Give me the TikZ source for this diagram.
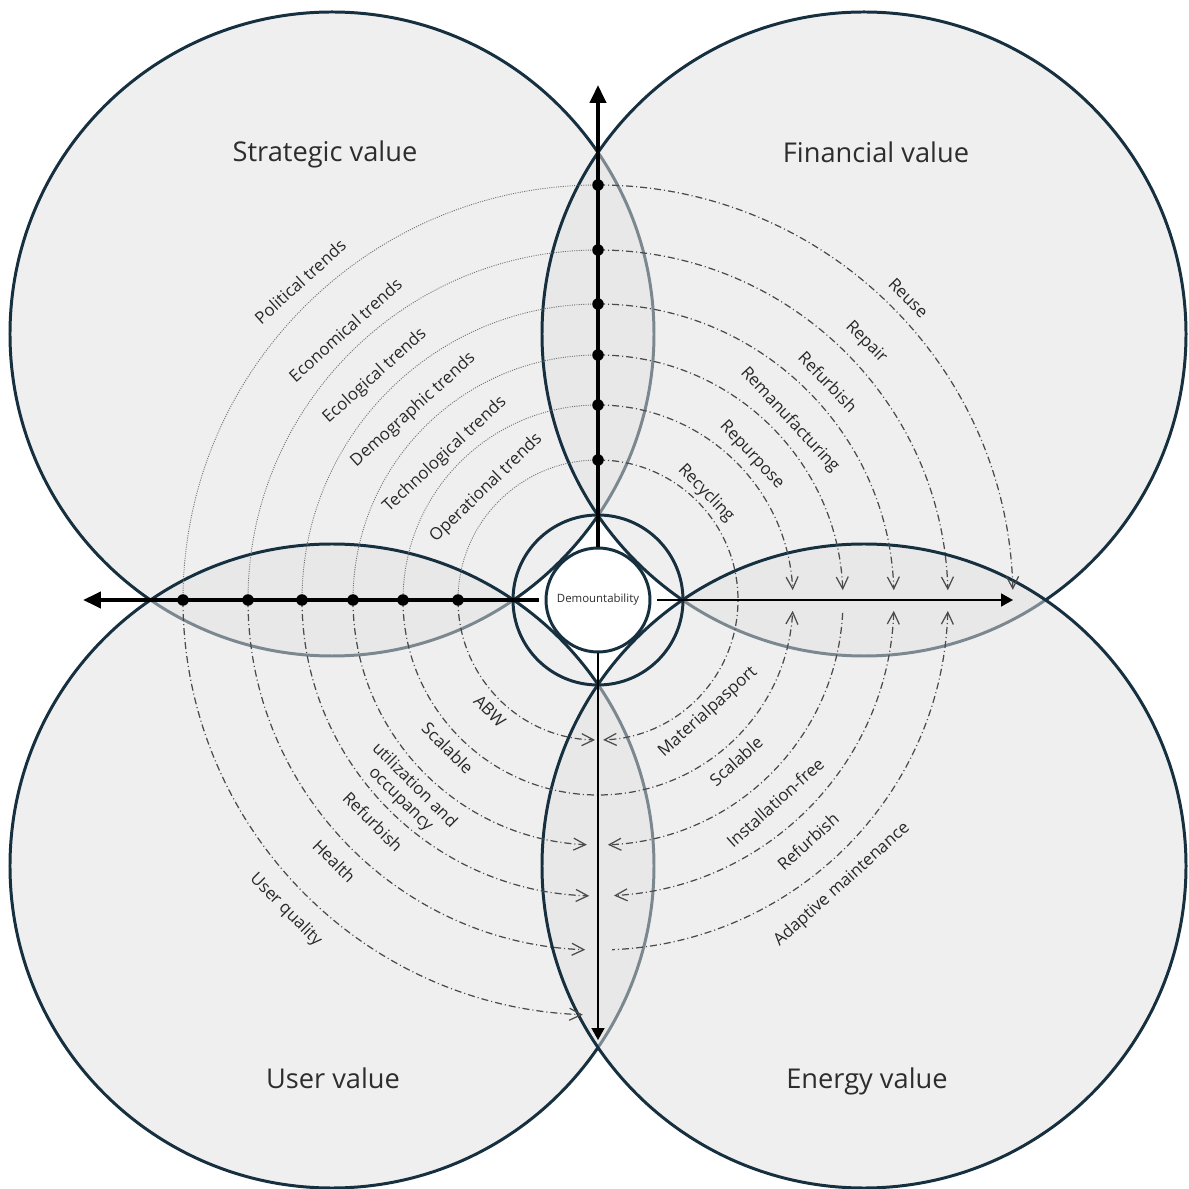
\documentclass[tikz,border=0pt]{standalone}
\usepackage{fontspec}
\setmainfont{Open Sans}
\usetikzlibrary{arrows.meta}
\definecolor{NV}{RGB}{22,48,64}
\definecolor{CF}{RGB}{224,224,224}
\definecolor{TX}{RGB}{45,45,45}
\definecolor{LB}{RGB}{40,40,40}
\definecolor{FL}{RGB}{75,75,75}
\tikzset{
  % big value circles
  valuecirc/.style={
    draw=NV, line width=1.7pt,
    fill=CF, fill opacity=0.5
  },
  valuetitle/.style={
    font=\fontsize{15.5}{18}\selectfont, text=TX
  },
  % centre
  hubnode/.style={
    circle, draw=NV, line width=1.7pt, fill=white,
    minimum size=2.08cm, inner sep=0pt,
    font=\fontsize{6.5}{8}\selectfont, text=TX
  },
  ringline/.style={draw=NV, line width=1.7pt},
  % axes
  thickaxis/.style={line width=2.3pt, -{Triangle[length=3.6mm,width=3.2mm]}},
  thinaxis/.style={line width=1pt, -{Triangle[length=2.4mm,width=2.6mm]}},
  axisdot/.style={circle, fill=black, inner sep=0pt, minimum size=2.3mm},
  % arcs
  trendarc/.style={draw=black!55, line width=0.5pt, dash pattern=on 0.6pt off 0.7pt},
  flowarc/.style={
    draw=FL, line width=0.7pt,
    dash pattern=on 4pt off 1.7pt on 0.6pt off 1.7pt
  },
  flowbarb/.tip={Straight Barb[length=2.4mm,width=2.4mm]},
  arclabel/.style={
    font=\fontsize{9.6}{11}\selectfont, text=LB,
    inner sep=1pt, align=center
  },
}
\begin{document}
\begin{tikzpicture}[x=0.02cm, y=0.02cm]
\useasboundingbox (-598,-589) rectangle (590,600);

% ── Value circles ───────────────────────────────────────────────────────────
\draw[valuecirc] (-266,266) circle[radius=322];
\draw[valuecirc] (266,266) circle[radius=322];
\draw[valuecirc] (-266,-266) circle[radius=322];
\draw[valuecirc] (266,-266) circle[radius=322];

\node[valuetitle] (stratT) at (-273,446) {Strategic value};
\node[valuetitle] (finT)   at (278,448)  {Financial value};
\node[valuetitle] (userT)  at (-265,-478) {User value};
\node[valuetitle] (enT)    at (269,-481) {Energy value};

% ── Centre ──────────────────────────────────────────────────────────────────
\draw[ringline] (0,0) circle[radius=85];
\node[hubnode] (hub) at (0,0) {Demountability};

% ── Axis points ─────────────────────────────────────────────────────────────
\coordinate (v1) at (0,415);
\coordinate (v2) at (0,350);
\coordinate (v3) at (0,296);
\coordinate (v4) at (0,245);
\coordinate (v5) at (0,195);
\coordinate (v6) at (0,140);
\coordinate (h1) at (-415,0);
\coordinate (h2) at (-350,0);
\coordinate (h3) at (-296,0);
\coordinate (h4) at (-245,0);
\coordinate (h5) at (-195,0);
\coordinate (h6) at (-140,0);
\coordinate (topTip)   at (0,515);
\coordinate (leftTip)  at (-515,0);
\coordinate (rightTip) at (415,0);
\coordinate (downTip)  at (0,-440);

% ── Strategic: trends ───────────────────────────────────────────────────────
\draw[trendarc] (v1) arc[start angle=90, end angle=180, radius=415];
\draw[trendarc] (v2) arc[start angle=90, end angle=180, radius=350];
\draw[trendarc] (v3) arc[start angle=90, end angle=180, radius=296];
\draw[trendarc] (v4) arc[start angle=90, end angle=180, radius=245];
\draw[trendarc] (v5) arc[start angle=90, end angle=180, radius=195];
\draw[trendarc] (v6) arc[start angle=90, end angle=180, radius=140];

% ── Financial: R-strategies ─────────────────────────────────────────────────
\draw[flowarc, -flowbarb] (v1) arc[start angle=90, end angle=1.4, radius=415];
\draw[flowarc, -flowbarb] (v2) arc[start angle=90, end angle=1.6, radius=350];
\draw[flowarc, -flowbarb] (v3) arc[start angle=90, end angle=1.9, radius=296];
\draw[flowarc, -flowbarb] (v4) arc[start angle=90, end angle=2.3, radius=245];
\draw[flowarc, -flowbarb] (v5) arc[start angle=90, end angle=2.9, radius=195];
% Recycling runs on into Materialpasport
\draw[flowarc, -flowbarb] (v6) arc[start angle=90, end angle=-87.9, radius=140];

% ── User ────────────────────────────────────────────────────────────────────
\draw[flowarc, -flowbarb] (h1) arc[start angle=180, end angle=267.9, radius=415];
\draw[flowarc, -flowbarb] (h2) arc[start angle=180, end angle=267.9, radius=350];
\draw[flowarc, -flowbarb] (h3) arc[start angle=180, end angle=268.3, radius=296];
\draw[flowarc, -flowbarb] (h4) arc[start angle=180, end angle=267.4, radius=245];
% Scalable runs on into the energy side
\draw[flowarc, -flowbarb] (h5) arc[start angle=180, end angle=356.8, radius=195];
\draw[flowarc, -flowbarb] (h6) arc[start angle=180, end angle=268.8, radius=140];

% ── Energy ──────────────────────────────────────────────────────────────────
\draw[flowarc, -flowbarb] (-3:245) arc[start angle=-3, end angle=-87.7, radius=245];
\draw[flowarc, flowbarb-flowbarb] (-2.1:296) arc[start angle=-2.1, end angle=-86.9, radius=296];
\draw[flowarc, flowbarb-] (-1.8:350) arc[start angle=-1.8, end angle=-87.7, radius=350];

% ── Axes ────────────────────────────────────────────────────────────────────
\draw[thickaxis] (hub.north) -- (topTip);
\draw[thickaxis] ([xshift=-0.12cm]hub.west) -- (leftTip);
\draw[thinaxis]  ([xshift=0.12cm]hub.east) -- (rightTip);
\draw[thinaxis]  (hub.south) -- (downTip);

\node[axisdot] (v1d) at (v1) {};
\node[axisdot] (v2d) at (v2) {};
\node[axisdot] (v3d) at (v3) {};
\node[axisdot] (v4d) at (v4) {};
\node[axisdot] (v5d) at (v5) {};
\node[axisdot] (v6d) at (v6) {};
\node[axisdot] (h1d) at (h1) {};
\node[axisdot] (h2d) at (h2) {};
\node[axisdot] (h3d) at (h3) {};
\node[axisdot] (h4d) at (h4) {};
\node[axisdot] (h5d) at (h5) {};
\node[axisdot] (h6d) at (h6) {};

% ── Labels ──────────────────────────────────────────────────────────────────
\node[arclabel, rotate=42] (polL)  at (133.1:436) {Political trends};
\node[arclabel, rotate=42] (ecoL)  at (133.1:370) {Economical trends};
\node[arclabel, rotate=42] (eclL)  at (134.9:316) {Ecological trends};
\node[arclabel, rotate=42] (demL)  at (134.2:265) {Demographic trends};
\node[arclabel, rotate=43] (tecL)  at (136.5:211) {Technological trends};
\node[arclabel, rotate=44] (opeL)  at (135:158)   {Operational trends};

\node[arclabel, rotate=-45] (reuL) at (44.2:433) {Reuse};
\node[arclabel, rotate=-45] (repL) at (43.9:372) {Repair};
\node[arclabel, rotate=-46] (rfbL) at (43.5:317) {Refurbish};
\node[arclabel, rotate=-47] (remL) at (43.2:263) {Remanufacturing};
\node[arclabel, rotate=-47] (rpuL) at (43.3:211) {Repurpose};
\node[arclabel, rotate=-46] (recL) at (44.7:152) {Recycling};

\node[arclabel, rotate=-45] (abwL) at (225.8:155) {ABW};
\node[arclabel, rotate=-45] (scuL) at (224.6:211) {Scalable};
\node[arclabel, rotate=-45] (utiL) at (225.3:271) {utilization and\\occupancy};
\node[arclabel, rotate=-45] (rfuL) at (224.6:316) {Refurbish};
\node[arclabel, rotate=-45] (heaL) at (224.7:371) {Health};
\node[arclabel, rotate=-45] (uqL)  at (224.8:440) {User quality};

\node[arclabel, rotate=42] (matL) at (314.5:157) {Materialpasport};
\node[arclabel, rotate=42] (sceL) at (310.6:212) {Scalable};
\node[arclabel, rotate=42] (insL) at (311.2:269) {Installation-free};
\node[arclabel, rotate=42] (rfeL) at (311:320)   {Refurbish};
\node[arclabel, rotate=42] (adaL) at (310.6:375) {Adaptive maintenance};

\end{tikzpicture}
\end{document}
